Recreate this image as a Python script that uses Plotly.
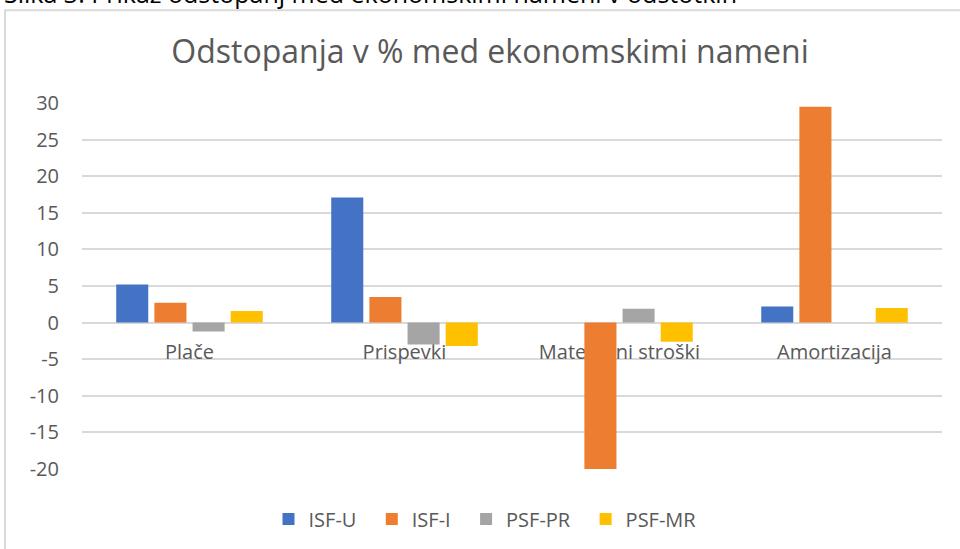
import plotly.graph_objects as go

categories = ["Plače", "Prispevki", "Materialni stroški", "Amortizacija"]
series_names = ["ISF-U", "ISF-I", "PSF-PR", "PSF-MR"]
isf_u = [5.2, 17.1, 0.0, 2.2]
isf_i = [2.7, 3.5, -20.0, 29.5]
psf_pr = [-1.2, -3.0, 1.9, 0.0]
psf_mr = [1.6, -3.2, -2.6, 2.0]
y_ticks = [30, 25, 20, 15, 10, 5, 0, -5, -10, -15, -20]
y_tick_labels = ["30", "25", "20", "15", "10", "5", "0", "-5", "-10", "-15", "-20"]

colors = ["#4472C4", "#ED7D31", "#A5A5A5", "#FFC000"]
FONT = "Open Sans"
TXT = "#595959"

W, H = 960, 549
L, R, T, B = 82, 18, 103, 79
pw, ph = W - L - R, H - T - B

fig = go.Figure()
for name, vals, c in zip(series_names, [isf_u, isf_i, psf_pr, psf_mr], colors):
    fig.add_trace(go.Bar(x=categories, y=vals, name=name + "\u00a0\u00a0",
                         marker=dict(color=c, line=dict(width=0))))

ymin, ymax = -20, 30
zero_pos = (0 - ymin) / (ymax - ymin)

def px_x(x):
    return (x - L) / pw

def px_y(y):
    return (H - B - y) / ph

fig.update_layout(
    width=W, height=H,
    margin=dict(l=L, r=R, t=T, b=B),
    paper_bgcolor="white", plot_bgcolor="white",
    barmode="group", bargap=0.29, bargroupgap=0.16,
    font=dict(family=FONT, color=TXT, size=20),
    title=dict(text="Odstopanja v % med ekonomskimi nameni", xref="container", x=490 / W,
               xanchor="center", y=1 - 52 / H, yanchor="middle",
               font=dict(size=32, color=TXT, family=FONT)),
    xaxis=dict(anchor="free", position=zero_pos, showline=False, ticks="", showgrid=False,
               zeroline=False, tickfont=dict(size=20, color=TXT), layer="below traces",
               ticklabelstandoff=15),
    yaxis=dict(range=[ymin, ymax], tickvals=y_ticks, ticktext=y_tick_labels, showgrid=True,
               gridcolor="#D9D9D9", gridwidth=1.5, zeroline=True, zerolinecolor="#D9D9D9",
               zerolinewidth=1.5, showline=False, ticks="", tickfont=dict(size=20, color=TXT),
               ticklabelstandoff=22),
    legend=dict(orientation="h", x=px_x(490), xanchor="center", y=px_y(519), yanchor="middle",
                font=dict(size=20, color=TXT), bgcolor="rgba(0,0,0,0)"),
    showlegend=True,
)

# chart border (left and top edges visible) and the cut-off document caption
fig.add_shape(type="rect", xref="paper", yref="paper", x0=px_x(5), x1=px_x(1000),
              y0=px_y(600), y1=px_y(10), line=dict(color="#D9D9D9", width=2), layer="below")
fig.add_annotation(text="Slika 3: Prikaz odstopanj med ekonomskimi nameni v odstotkih",
                   xref="paper", yref="paper", x=px_x(2), xanchor="left", y=px_y(12), yanchor="bottom",
                   showarrow=False, font=dict(size=25, color="#000000", family=FONT))

fig.write_html("out.html", config={"displayModeBar": False},
               post_script="document.body.style.margin='0';")
